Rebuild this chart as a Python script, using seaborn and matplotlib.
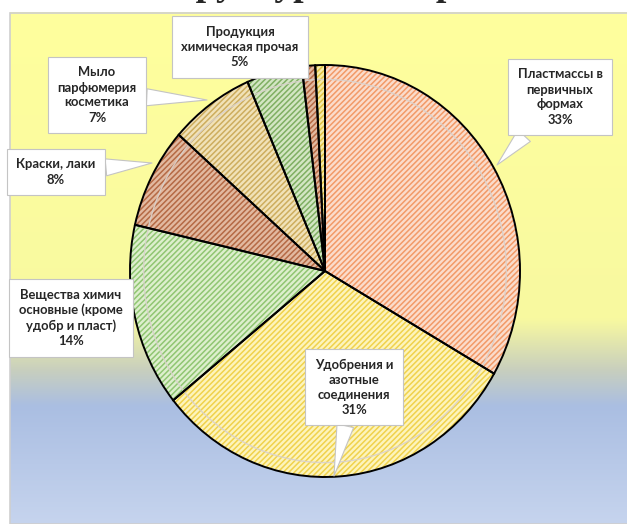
import numpy as np
import matplotlib
matplotlib.use('Agg')
import matplotlib.pyplot as plt
import seaborn as sns
from matplotlib.colors import to_rgb

# Data (shares in %, small unlabeled slivers at the end)
categories = ['Пластмассы в\nпервичных\nформах',
              'Удобрения и\nазотные\nсоединения',
              'Вещества химич\nосновные (кроме\nудобр и пласт)',
              'Краски, лаки',
              'Мыло\nпарфюмерия\nкосметика',
              'Продукция\nхимическая прочая',
              '', '']
shares = [33.3, 30.9, 14.4, 7.9, 7.0, 4.6, 1.1, 0.8]

base_colors = ['#FBDCCB', '#FDF4BC', '#DDEFCD', '#E2B9A0', '#F1E2B8', '#D3E6C3', '#E2B9A0', '#F7EBA8']
stripe_colors = ['#F29A68', '#F0D24C', '#90C672', '#B56A45', '#CDAD5E', '#7FAF62', '#B56A45', '#DFC143']

sns.set_theme(style='white')
plt.rcParams['font.family'] = ['Lato', 'DejaVu Sans']
plt.rcParams['hatch.linewidth'] = 1.1

fig = plt.figure(figsize=(6.27, 5.24), dpi=100)
ax = fig.add_axes([0, 0, 1, 1])

# pixel -> data mapping (pie centre and radii in pixels)
CX, CY, RX, RY = 325, 271, 195, 206
W, H = 627, 524


def to_data(px, py):
    return ((px - CX) / RX, (CY - py) / RY)


# gradient background of the plot area
stops = [0.0, 0.6, 0.7, 0.77, 1.0]
cols = ['#FFFF9D', '#F8F9A0', '#C8CFBE', '#AABEE2', '#C6D4EE']
t = np.linspace(0, 1, 300)
rgb = np.array([to_rgb(c) for c in cols])
grad = np.stack([np.interp(t, stops, rgb[:, k]) for k in range(3)], axis=-1)[:, None, :]
x0, y1 = to_data(10, 13)
x1, y0 = to_data(W + 5, H)
ax.imshow(grad, extent=(x0, x1, y0, y1), aspect='auto', zorder=0)
ax.add_patch(plt.Rectangle((x0, y0), x1 - x0, y1 - y0, fill=False,
                           ec='#CFCFCF', lw=1.2, zorder=0.5))

# hatched slices
wedges, _ = ax.pie(shares, colors=base_colors, startangle=90, counterclock=False,
                   wedgeprops=dict(linewidth=0, zorder=1))
for w, sc in zip(wedges, stripe_colors):
    w.set_hatch('//////')
    w.set_edgecolor(sc)
    w.set_linewidth(0)

# inner bevel line
ax.pie(shares, radius=0.93, startangle=90, counterclock=False,
       wedgeprops=dict(facecolor='none', edgecolor=(0.85, 0.82, 0.8, 0.9),
                       linewidth=1.0, zorder=2))
# black outlines
ax.pie(shares, startangle=90, counterclock=False,
       wedgeprops=dict(facecolor='none', edgecolor='black', linewidth=1.4, zorder=3))

# callout labels
label_pos = [(560, 97), (354, 387), (71, 318), (56, 172), (97, 95), (240, 47)]
tips = [(497, 165), (334, 476), (133, 306), (152, 163), (207, 100), None]
for name, val, pos, tip in zip(categories, shares, label_pos, tips):
    txt = f'{name}\n{round(val)}%'
    bbox = dict(boxstyle='square,pad=0.75', fc='white', ec='#C4C4C4', lw=0.8)
    if tip is None:
        ax.text(*to_data(*pos), txt, ha='center', va='center', fontsize=9.4,
                fontweight='bold', linespacing=1.3, bbox=bbox, zorder=5)
    else:
        ax.annotate(txt, xy=to_data(*tip), xytext=to_data(*pos),
                    ha='center', va='center', fontsize=9.4, fontweight='bold',
                    linespacing=1.3, bbox=bbox, zorder=5,
                    arrowprops=dict(arrowstyle='wedge,tail_width=1.3,shrink_factor=0.5',
                                    fc='white', ec='#C4C4C4', lw=0.8,
                                    shrinkA=0, shrinkB=0))

# heading cut off by the top edge (only its lowest strokes show, as in the source)
ax.text(*to_data(322, -5), 'Структура экспорта', ha='center', va='baseline',
        fontsize=27, fontweight='bold', family=['Liberation Serif', 'DejaVu Serif'])

ax.set_aspect('auto')
ax.set_xlim(to_data(0, 0)[0], to_data(W, 0)[0])
ax.set_ylim(to_data(0, H)[1], to_data(0, 0)[1])
ax.axis('off')

fig.savefig('out.png', dpi=100)
